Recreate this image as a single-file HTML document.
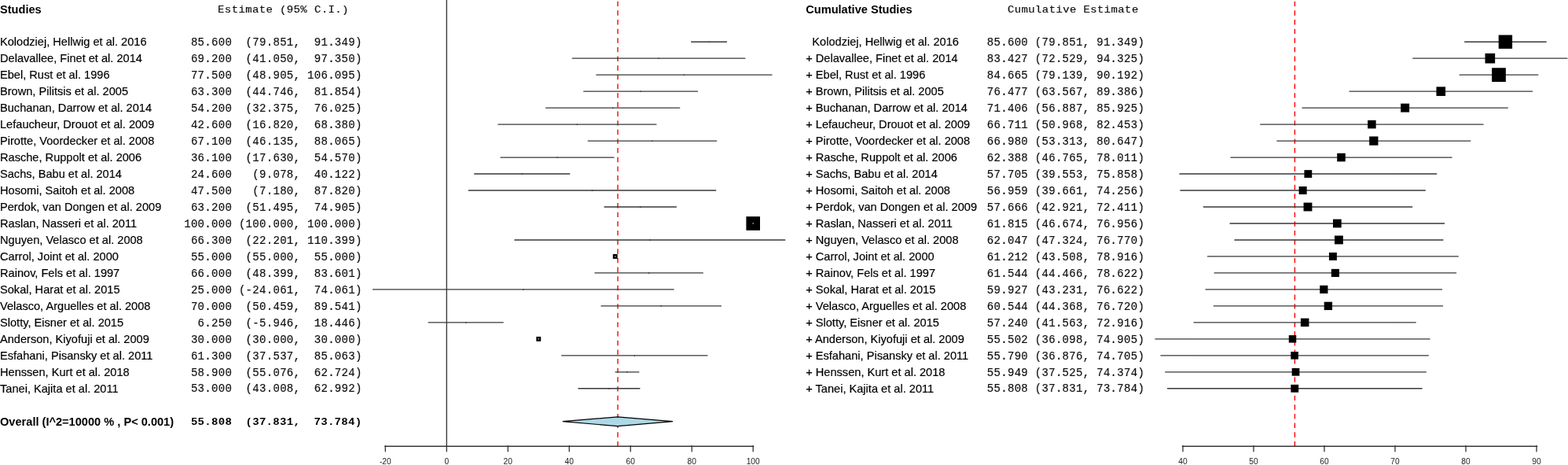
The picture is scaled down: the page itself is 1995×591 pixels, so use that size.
<!DOCTYPE html><html><head><meta charset="utf-8"><title>Forest plot</title><style>
html,body{margin:0;padding:0;background:#fff;overflow:hidden}
svg{display:block}
.s{font-family:"Liberation Sans",Arial,sans-serif;font-size:14.6px;fill:#000;stroke:#000;stroke-width:0.18px}
.b{font-family:"Liberation Sans",Arial,sans-serif;font-size:14.6px;font-weight:bold;fill:#000}
.m{font-family:"Liberation Mono","Courier New",monospace;font-size:14.0px;letter-spacing:0.31px;fill:#111;stroke:#111;stroke-width:0.2px;white-space:pre}
.mb{font-family:"Liberation Mono","Courier New",monospace;font-size:14.0px;letter-spacing:0.31px;font-weight:bold;fill:#000;white-space:pre}
.ln{stroke:#383838;stroke-width:1.35px;stroke-linecap:round}
.ax{stroke:#383838;stroke-width:1.4px;stroke-linecap:round}
.t{font-family:"Liberation Sans",Arial,sans-serif;font-size:10.2px;fill:#222}
</style></head><body>
<svg width="1995" height="591" viewBox="0 0 1995 591">
<text class="b" transform="translate(0.00 17.00) scale(1 1)">Studies</text>
<text class="m" transform="translate(277.1 16.2) scale(1 0.88)" style="letter-spacing:0.38px" xml:space="preserve">Estimate (95% C.I.)</text>
<text class="b" transform="translate(1025.20 17.00) scale(1 1)">Cumulative Studies</text>
<text class="m" transform="translate(1282.0 16.2) scale(1 0.88)" style="letter-spacing:0.38px" xml:space="preserve">Cumulative Estimate</text>
<g stroke="#ff0000" stroke-width="1.4" stroke-dasharray="6.4 5.25" stroke-dashoffset="-1.7" fill="none">
<line x1="786.0" y1="0" x2="786.0" y2="567" />
<line x1="1647.4" y1="0" x2="1647.4" y2="567" />
</g>
<line x1="568.3" y1="0" x2="568.3" y2="567.5" class="ln"/>
<text class="s" transform="translate(0.00 58.40) scale(1 1)">Kolodziej, Hellwig et al. 2016</text>
<text class="m" x="234.2" y="57.90" xml:space="preserve"> 85.600  (79.851,  91.349)</text>
<text class="s" transform="translate(1025.20 58.40) scale(1 1)" xml:space="preserve">  Kolodziej, Hellwig et al. 2016</text>
<text class="m" x="1255.8" y="57.90" xml:space="preserve">85.600 (79.851, 91.349)</text>
<line x1="879.64" y1="53.20" x2="924.47" y2="53.20" class="ln"/>
<rect x="901.45" y="52.70" width="1.2" height="1.3" fill="#222"/>
<line x1="1863.66" y1="53.20" x2="1967.14" y2="53.20" class="ln"/>
<rect x="1906.70" y="44.50" width="17.40" height="17.40" fill="#000"/>
<text class="s" transform="translate(0.00 79.38) scale(1 1)">Delavallee, Finet et al. 2014</text>
<text class="m" x="234.2" y="78.88" xml:space="preserve"> 69.200  (41.050,  97.350)</text>
<text class="s" transform="translate(1025.20 79.38) scale(1 1)" xml:space="preserve">+ Delavallee, Finet et al. 2014</text>
<text class="m" x="1255.8" y="78.88" xml:space="preserve">83.427 (72.529, 94.325)</text>
<line x1="728.35" y1="74.18" x2="947.87" y2="74.18" class="ln"/>
<rect x="837.51" y="73.68" width="1.2" height="1.3" fill="#222"/>
<line x1="1797.76" y1="74.18" x2="1993.92" y2="74.18" class="ln"/>
<rect x="1889.52" y="67.86" width="12.64" height="12.64" fill="#000"/>
<text class="s" transform="translate(0.00 100.36) scale(1 1)">Ebel, Rust et al. 1996</text>
<text class="m" x="234.2" y="99.86" xml:space="preserve"> 77.500  (48.905, 106.095)</text>
<text class="s" transform="translate(1025.20 100.36) scale(1 1)" xml:space="preserve">+ Ebel, Rust et al. 1996</text>
<text class="m" x="1255.8" y="99.86" xml:space="preserve">84.665 (79.139, 90.192)</text>
<line x1="758.98" y1="95.16" x2="981.96" y2="95.16" class="ln"/>
<rect x="869.87" y="94.66" width="1.2" height="1.3" fill="#222"/>
<line x1="1857.25" y1="95.16" x2="1956.73" y2="95.16" class="ln"/>
<rect x="1898.11" y="86.29" width="17.75" height="17.75" fill="#000"/>
<text class="s" transform="translate(0.00 121.34) scale(1 1)">Brown, Pilitsis et al. 2005</text>
<text class="m" x="234.2" y="120.84" xml:space="preserve"> 63.300  (44.746,  81.854)</text>
<text class="s" transform="translate(1025.20 121.34) scale(1 1)" xml:space="preserve">+ Brown, Pilitsis et al. 2005</text>
<text class="m" x="1255.8" y="120.84" xml:space="preserve">76.477 (63.567, 89.386)</text>
<line x1="742.76" y1="116.14" x2="887.45" y2="116.14" class="ln"/>
<rect x="814.51" y="115.64" width="1.2" height="1.3" fill="#222"/>
<line x1="1717.10" y1="116.14" x2="1949.47" y2="116.14" class="ln"/>
<rect x="1827.49" y="110.33" width="11.61" height="11.61" fill="#000"/>
<text class="s" transform="translate(0.00 142.32) scale(1 1)">Buchanan, Darrow et al. 2014</text>
<text class="m" x="234.2" y="141.82" xml:space="preserve"> 54.200  (32.375,  76.025)</text>
<text class="s" transform="translate(1025.20 142.32) scale(1 1)" xml:space="preserve">+ Buchanan, Darrow et al. 2014</text>
<text class="m" x="1255.8" y="141.82" xml:space="preserve">71.406 (56.887, 85.925)</text>
<line x1="694.53" y1="137.12" x2="864.72" y2="137.12" class="ln"/>
<rect x="779.03" y="136.62" width="1.2" height="1.3" fill="#222"/>
<line x1="1656.98" y1="137.12" x2="1918.33" y2="137.12" class="ln"/>
<rect x="1782.18" y="131.65" width="10.95" height="10.95" fill="#000"/>
<text class="s" transform="translate(0.00 163.30) scale(1 1)">Lefaucheur, Drouot et al. 2009</text>
<text class="m" x="234.2" y="162.80" xml:space="preserve"> 42.600  (16.820,  68.380)</text>
<text class="s" transform="translate(1025.20 163.30) scale(1 1)" xml:space="preserve">+ Lefaucheur, Drouot et al. 2009</text>
<text class="m" x="1255.8" y="162.80" xml:space="preserve">66.711 (50.968, 82.453)</text>
<line x1="633.88" y1="158.10" x2="834.91" y2="158.10" class="ln"/>
<rect x="733.80" y="157.60" width="1.2" height="1.3" fill="#222"/>
<line x1="1603.71" y1="158.10" x2="1887.08" y2="158.10" class="ln"/>
<rect x="1740.14" y="152.84" width="10.51" height="10.51" fill="#000"/>
<text class="s" transform="translate(0.00 184.28) scale(1 1)">Pirotte, Voordecker et al. 2008</text>
<text class="m" x="234.2" y="183.78" xml:space="preserve"> 67.100  (46.135,  88.065)</text>
<text class="s" transform="translate(1025.20 184.28) scale(1 1)" xml:space="preserve">+ Pirotte, Voordecker et al. 2008</text>
<text class="m" x="1255.8" y="183.78" xml:space="preserve">66.980 (53.313, 80.647)</text>
<line x1="748.18" y1="179.08" x2="911.67" y2="179.08" class="ln"/>
<rect x="829.32" y="178.58" width="1.2" height="1.3" fill="#222"/>
<line x1="1624.82" y1="179.08" x2="1870.82" y2="179.08" class="ln"/>
<rect x="1742.18" y="173.44" width="11.28" height="11.28" fill="#000"/>
<text class="s" transform="translate(0.00 205.26) scale(1 1)">Rasche, Ruppolt et al. 2006</text>
<text class="m" x="234.2" y="204.76" xml:space="preserve"> 36.100  (17.630,  54.570)</text>
<text class="s" transform="translate(1025.20 205.26) scale(1 1)" xml:space="preserve">+ Rasche, Ruppolt et al. 2006</text>
<text class="m" x="1255.8" y="204.76" xml:space="preserve">62.388 (46.765, 78.011)</text>
<line x1="637.04" y1="200.06" x2="781.07" y2="200.06" class="ln"/>
<rect x="708.45" y="199.56" width="1.2" height="1.3" fill="#222"/>
<line x1="1565.88" y1="200.06" x2="1847.10" y2="200.06" class="ln"/>
<rect x="1701.21" y="194.78" width="10.55" height="10.55" fill="#000"/>
<text class="s" transform="translate(0.00 226.24) scale(1 1)">Sachs, Babu et al. 2014</text>
<text class="m" x="234.2" y="225.74" xml:space="preserve"> 24.600   (9.078,  40.122)</text>
<text class="s" transform="translate(1025.20 226.24) scale(1 1)" xml:space="preserve">+ Sachs, Babu et al. 2014</text>
<text class="m" x="1255.8" y="225.74" xml:space="preserve">57.705 (39.553, 75.858)</text>
<line x1="603.70" y1="221.04" x2="724.74" y2="221.04" class="ln"/>
<rect x="663.62" y="220.54" width="1.2" height="1.3" fill="#222"/>
<line x1="1500.98" y1="221.04" x2="1827.72" y2="221.04" class="ln"/>
<rect x="1659.45" y="216.14" width="9.79" height="9.79" fill="#000"/>
<text class="s" transform="translate(0.00 247.22) scale(1 1)">Hosomi, Saitoh et al. 2008</text>
<text class="m" x="234.2" y="246.72" xml:space="preserve"> 47.500   (7.180,  87.820)</text>
<text class="s" transform="translate(1025.20 247.22) scale(1 1)" xml:space="preserve">+ Hosomi, Saitoh et al. 2008</text>
<text class="m" x="1255.8" y="246.72" xml:space="preserve">56.959 (39.661, 74.256)</text>
<line x1="596.29" y1="242.02" x2="910.71" y2="242.02" class="ln"/>
<rect x="752.90" y="241.52" width="1.2" height="1.3" fill="#222"/>
<line x1="1501.95" y1="242.02" x2="1813.30" y2="242.02" class="ln"/>
<rect x="1652.62" y="237.00" width="10.03" height="10.03" fill="#000"/>
<text class="s" transform="translate(0.00 268.20) scale(1 1)">Perdok, van Dongen et al. 2009</text>
<text class="m" x="234.2" y="267.70" xml:space="preserve"> 63.200  (51.495,  74.905)</text>
<text class="s" transform="translate(1025.20 268.20) scale(1 1)" xml:space="preserve">+ Perdok, van Dongen et al. 2009</text>
<text class="m" x="1255.8" y="267.70" xml:space="preserve">57.666 (42.921, 72.411)</text>
<line x1="769.08" y1="263.00" x2="860.35" y2="263.00" class="ln"/>
<rect x="814.12" y="262.50" width="1.2" height="1.3" fill="#222"/>
<line x1="1531.29" y1="263.00" x2="1796.70" y2="263.00" class="ln"/>
<rect x="1658.56" y="257.57" width="10.86" height="10.86" fill="#000"/>
<text class="s" transform="translate(0.00 289.18) scale(1 1)">Raslan, Nasseri et al. 2011</text>
<text class="m" x="234.2" y="288.68" xml:space="preserve">100.000 (100.000, 100.000)</text>
<text class="s" transform="translate(1025.20 289.18) scale(1 1)" xml:space="preserve">+ Raslan, Nasseri et al. 2011</text>
<text class="m" x="1255.8" y="288.68" xml:space="preserve">61.815 (46.674, 76.956)</text>
<line x1="1565.07" y1="283.98" x2="1837.60" y2="283.98" class="ln"/>
<rect x="1695.97" y="278.62" width="10.72" height="10.72" fill="#000"/>
<text class="s" transform="translate(0.00 310.16) scale(1 1)">Nguyen, Velasco et al. 2008</text>
<text class="m" x="234.2" y="309.66" xml:space="preserve"> 66.300  (22.201, 110.399)</text>
<text class="s" transform="translate(1025.20 310.16) scale(1 1)" xml:space="preserve">+ Nguyen, Velasco et al. 2008</text>
<text class="m" x="1255.8" y="309.66" xml:space="preserve">62.047 (47.324, 76.770)</text>
<line x1="654.86" y1="304.96" x2="998.75" y2="304.96" class="ln"/>
<rect x="826.20" y="304.46" width="1.2" height="1.3" fill="#222"/>
<line x1="1570.92" y1="304.96" x2="1835.93" y2="304.96" class="ln"/>
<rect x="1697.99" y="299.52" width="10.87" height="10.87" fill="#000"/>
<text class="s" transform="translate(0.00 331.14) scale(1 1)">Carrol, Joint et al. 2000</text>
<text class="m" x="234.2" y="330.64" xml:space="preserve"> 55.000  (55.000,  55.000)</text>
<text class="s" transform="translate(1025.20 331.14) scale(1 1)" xml:space="preserve">+ Carrol, Joint et al. 2000</text>
<text class="m" x="1255.8" y="330.64" xml:space="preserve">61.212 (43.508, 78.916)</text>
<line x1="1536.57" y1="325.94" x2="1855.24" y2="325.94" class="ln"/>
<rect x="1690.95" y="320.98" width="9.92" height="9.92" fill="#000"/>
<text class="s" transform="translate(0.00 352.12) scale(1 1)">Rainov, Fels et al. 1997</text>
<text class="m" x="234.2" y="351.62" xml:space="preserve"> 66.000  (48.399,  83.601)</text>
<text class="s" transform="translate(1025.20 352.12) scale(1 1)" xml:space="preserve">+ Rainov, Fels et al. 1997</text>
<text class="m" x="1255.8" y="351.62" xml:space="preserve">61.544 (44.466, 78.622)</text>
<line x1="757.01" y1="346.92" x2="894.26" y2="346.92" class="ln"/>
<rect x="825.03" y="346.42" width="1.2" height="1.3" fill="#222"/>
<line x1="1545.19" y1="346.92" x2="1852.60" y2="346.92" class="ln"/>
<rect x="1693.85" y="341.87" width="10.10" height="10.10" fill="#000"/>
<text class="s" transform="translate(0.00 373.10) scale(1 1)">Sokal, Harat et al. 2015</text>
<text class="m" x="234.2" y="372.60" xml:space="preserve"> 25.000 (-24.061,  74.061)</text>
<text class="s" transform="translate(1025.20 373.10) scale(1 1)" xml:space="preserve">+ Sokal, Harat et al. 2015</text>
<text class="m" x="1255.8" y="372.60" xml:space="preserve">59.927 (43.231, 76.622)</text>
<line x1="474.49" y1="367.90" x2="857.06" y2="367.90" class="ln"/>
<rect x="665.17" y="367.40" width="1.2" height="1.3" fill="#222"/>
<line x1="1534.08" y1="367.90" x2="1834.60" y2="367.90" class="ln"/>
<rect x="1679.24" y="362.79" width="10.21" height="10.21" fill="#000"/>
<text class="s" transform="translate(0.00 394.08) scale(1 1)">Velasco, Arguelles et al. 2008</text>
<text class="m" x="234.2" y="393.58" xml:space="preserve"> 70.000  (50.459,  89.541)</text>
<text class="s" transform="translate(1025.20 394.08) scale(1 1)" xml:space="preserve">+ Velasco, Arguelles et al. 2008</text>
<text class="m" x="1255.8" y="393.58" xml:space="preserve">60.544 (44.368, 76.720)</text>
<line x1="765.04" y1="388.88" x2="917.42" y2="388.88" class="ln"/>
<rect x="840.63" y="388.38" width="1.2" height="1.3" fill="#222"/>
<line x1="1544.31" y1="388.88" x2="1835.48" y2="388.88" class="ln"/>
<rect x="1684.71" y="383.69" width="10.37" height="10.37" fill="#000"/>
<text class="s" transform="translate(0.00 415.06) scale(1 1)">Slotty, Eisner et al. 2015</text>
<text class="m" x="234.2" y="414.56" xml:space="preserve">  6.250  (-5.946,  18.446)</text>
<text class="s" transform="translate(1025.20 415.06) scale(1 1)" xml:space="preserve">+ Slotty, Eisner et al. 2015</text>
<text class="m" x="1255.8" y="414.56" xml:space="preserve">57.240 (41.563, 72.916)</text>
<line x1="545.12" y1="409.86" x2="640.22" y2="409.86" class="ln"/>
<rect x="592.07" y="409.36" width="1.2" height="1.3" fill="#222"/>
<line x1="1519.07" y1="409.86" x2="1801.24" y2="409.86" class="ln"/>
<rect x="1654.89" y="404.59" width="10.54" height="10.54" fill="#000"/>
<text class="s" transform="translate(0.00 436.04) scale(1 1)">Anderson, Kiyofuji et al. 2009</text>
<text class="m" x="234.2" y="435.54" xml:space="preserve"> 30.000  (30.000,  30.000)</text>
<text class="s" transform="translate(1025.20 436.04) scale(1 1)" xml:space="preserve">+ Anderson, Kiyofuji et al. 2009</text>
<text class="m" x="1255.8" y="435.54" xml:space="preserve">55.502 (36.098, 74.905)</text>
<line x1="1469.88" y1="430.84" x2="1819.14" y2="430.84" class="ln"/>
<rect x="1639.78" y="426.10" width="9.47" height="9.47" fill="#000"/>
<text class="s" transform="translate(0.00 457.02) scale(1 1)">Esfahani, Pisansky et al. 2011</text>
<text class="m" x="234.2" y="456.52" xml:space="preserve"> 61.300  (37.537,  85.063)</text>
<text class="s" transform="translate(1025.20 457.02) scale(1 1)" xml:space="preserve">+ Esfahani, Pisansky et al. 2011</text>
<text class="m" x="1255.8" y="456.52" xml:space="preserve">55.790 (36.876, 74.705)</text>
<line x1="714.66" y1="451.82" x2="899.96" y2="451.82" class="ln"/>
<rect x="806.71" y="451.32" width="1.2" height="1.3" fill="#222"/>
<line x1="1476.88" y1="451.82" x2="1817.35" y2="451.82" class="ln"/>
<rect x="1642.31" y="447.02" width="9.59" height="9.59" fill="#000"/>
<text class="s" transform="translate(0.00 478.00) scale(1 1)">Henssen, Kurt et al. 2018</text>
<text class="m" x="234.2" y="477.50" xml:space="preserve"> 58.900  (55.076,  62.724)</text>
<text class="s" transform="translate(1025.20 478.00) scale(1 1)" xml:space="preserve">+ Henssen, Kurt et al. 2018</text>
<text class="m" x="1255.8" y="477.50" xml:space="preserve">55.949 (37.525, 74.374)</text>
<line x1="783.04" y1="472.80" x2="812.86" y2="472.80" class="ln"/>
<rect x="797.35" y="472.30" width="1.2" height="1.3" fill="#222"/>
<line x1="1482.72" y1="472.80" x2="1814.37" y2="472.80" class="ln"/>
<rect x="1643.68" y="467.94" width="9.72" height="9.72" fill="#000"/>
<text class="s" transform="translate(0.00 498.98) scale(1 1)">Tanei, Kajita et al. 2011</text>
<text class="m" x="234.2" y="498.48" xml:space="preserve"> 53.000  (43.008,  62.992)</text>
<text class="s" transform="translate(1025.20 498.98) scale(1 1)" xml:space="preserve">+ Tanei, Kajita et al. 2011</text>
<text class="m" x="1255.8" y="498.48" xml:space="preserve">55.808 (37.831, 73.784)</text>
<line x1="735.99" y1="493.78" x2="813.91" y2="493.78" class="ln"/>
<rect x="774.35" y="493.28" width="1.2" height="1.3" fill="#222"/>
<line x1="1485.48" y1="493.78" x2="1809.06" y2="493.78" class="ln"/>
<rect x="1642.35" y="488.86" width="9.84" height="9.84" fill="#000"/>
<rect x="949.40" y="275.18" width="17.60" height="17.60" fill="#000"/>
<rect x="957.45" y="283.23" width="1.5" height="1.5" fill="#aaa"/>
<rect x="779.79" y="322.99" width="5.90" height="5.90" fill="#000"/>
<rect x="781.99" y="325.19" width="1.5" height="1.5" fill="#aaa"/>
<rect x="682.32" y="427.89" width="5.90" height="5.90" fill="#000"/>
<rect x="684.52" y="430.09" width="1.5" height="1.5" fill="#aaa"/>
<text class="b" transform="translate(0.00 541.20) scale(1 1)">Overall (I^2=10000 % , P&lt; 0.001)</text>
<text class="mb" transform="translate(234.2 540.40) scale(1 0.93)" xml:space="preserve"> 55.808  (37.831,  73.784)</text>
<polygon points="715.80,535.70 785.90,529.80 855.98,535.70 785.90,541.60" fill="#add8e6" stroke="#000" stroke-width="1.2"/>
<line x1="489.72" y1="567.2" x2="958.80" y2="567.2" class="ax"/>
<line x1="490.32" y1="566.6" x2="490.32" y2="573.8" class="ln"/>
<text class="t" x="490.32" y="590" text-anchor="middle">-20</text>
<line x1="568.30" y1="566.6" x2="568.30" y2="573.8" class="ln"/>
<text class="t" x="568.30" y="590" text-anchor="middle">0</text>
<line x1="646.28" y1="566.6" x2="646.28" y2="573.8" class="ln"/>
<text class="t" x="646.28" y="590" text-anchor="middle">20</text>
<line x1="724.26" y1="566.6" x2="724.26" y2="573.8" class="ln"/>
<text class="t" x="724.26" y="590" text-anchor="middle">40</text>
<line x1="802.24" y1="566.6" x2="802.24" y2="573.8" class="ln"/>
<text class="t" x="802.24" y="590" text-anchor="middle">60</text>
<line x1="880.22" y1="566.6" x2="880.22" y2="573.8" class="ln"/>
<text class="t" x="880.22" y="590" text-anchor="middle">80</text>
<line x1="958.20" y1="566.6" x2="958.20" y2="573.8" class="ln"/>
<text class="t" x="958.20" y="590" text-anchor="middle">100</text>
<line x1="1504.40" y1="567.2" x2="1955.60" y2="567.2" class="ax"/>
<line x1="1505.00" y1="566.6" x2="1505.00" y2="573.8" class="ln"/>
<text class="t" x="1505.00" y="590" text-anchor="middle">40</text>
<line x1="1595.00" y1="566.6" x2="1595.00" y2="573.8" class="ln"/>
<text class="t" x="1595.00" y="590" text-anchor="middle">50</text>
<line x1="1685.00" y1="566.6" x2="1685.00" y2="573.8" class="ln"/>
<text class="t" x="1685.00" y="590" text-anchor="middle">60</text>
<line x1="1775.00" y1="566.6" x2="1775.00" y2="573.8" class="ln"/>
<text class="t" x="1775.00" y="590" text-anchor="middle">70</text>
<line x1="1865.00" y1="566.6" x2="1865.00" y2="573.8" class="ln"/>
<text class="t" x="1865.00" y="590" text-anchor="middle">80</text>
<line x1="1955.00" y1="566.6" x2="1955.00" y2="573.8" class="ln"/>
<text class="t" x="1955.00" y="590" text-anchor="middle">90</text>
</svg></body></html>
